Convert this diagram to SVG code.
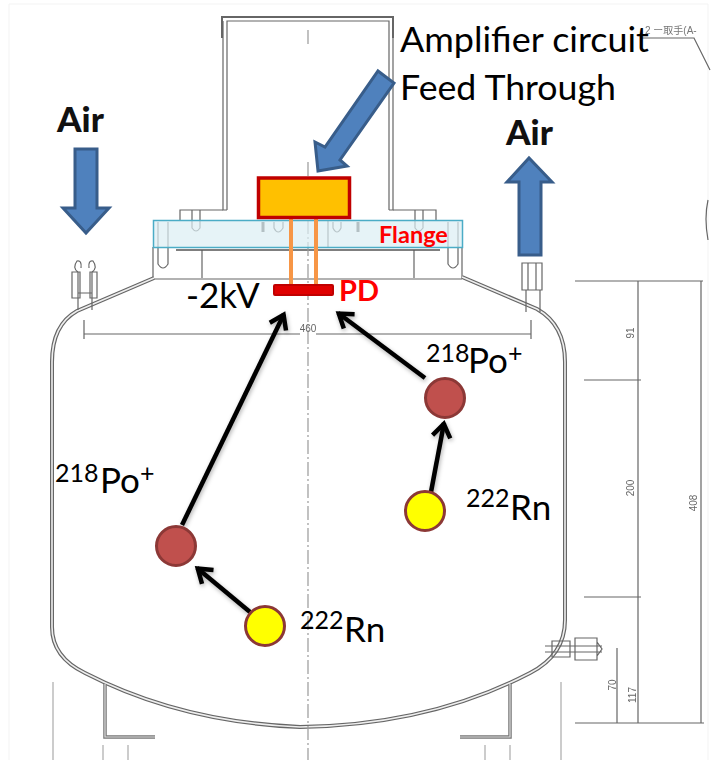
<svg xmlns="http://www.w3.org/2000/svg" width="711" height="760" viewBox="0 0 711 760">
<style>
.t{font-family:Lato,"Noto Sans",sans-serif;fill:#000}
.big{font-size:35px}
.sup{font-size:25px}
.air{font-family:Lato,"Noto Sans",sans-serif;font-weight:900;font-size:35px;fill:#111}
.red{font-family:Lato,"Noto Sans",sans-serif;font-weight:700;fill:#f00}
.ln{fill:none;stroke:#666;stroke-width:1.2}
.thin{fill:none;stroke:#999;stroke-width:1}
.dash{fill:none;stroke:#999;stroke-width:1.2;stroke-dasharray:14 3 2 3}
.dim{font-family:"Liberation Sans",sans-serif;font-size:10px;fill:#666}
.blue{fill:#4f81bd;stroke:#385d8a;stroke-width:3}
.po{fill:#c0504d;stroke:#8c3836;stroke-width:3}
.rn{fill:#ff0;stroke:#8c3836;stroke-width:3}
.arr{fill:none;stroke:#000;stroke-width:4.5;marker-end:url(#open)}
.wire{stroke:#f79646;stroke-width:4;fill:none}
</style>
<defs>
<marker id="open" markerUnits="userSpaceOnUse" markerWidth="28" markerHeight="28" refX="21" refY="12" orient="auto">
<path d="M7 3L20 12L7 21" fill="none" stroke="#000" stroke-width="4.5"/>
</marker>
<filter id="soft" x="-5%" y="-5%" width="110%" height="110%"><feGaussianBlur stdDeviation="0.45"/></filter>
<filter id="shadow" x="-20%" y="-20%" width="140%" height="140%"><feDropShadow dx="1" dy="2" stdDeviation="2" flood-color="#000" flood-opacity="0.3"/></filter>
</defs>
<rect width="711" height="760" fill="#fff"/>
<path d="M9 760V4H708V760" fill="none" stroke="#f3f3f3"/>

<g id="drawing" filter="url(#soft)">
<path d="M222 38V17H393V38" fill="none" stroke="#666" stroke-width="2"/>
<path class="ln" d="M227 210V21H389V210M223 21V210H227M393 21V210H389"/>
<path class="ln" d="M180 220V210H223M436 220V210H393M153 247V278M462 247V278M202 250V278M414 250V278M328 220V248"/>
<path d="M176 250H440" fill="none" stroke="#555" stroke-width="1.6"/>
<path class="ln" d="M154 279H462"/>
<path class="ln" d="M192 210V228Q196 234 200 228V210M274 222V228Q278 236 283 228V222M333 222V228Q337 236 341 228V222M415 210V228Q419 234 423 228V210M158 222V264Q163 272 168 264V222M448 222V264Q453 272 458 264V222"/>
<path d="M263 222V232M358 222V232" stroke="#555" stroke-width="3" fill="none"/>
<path id="wall" d="M154 278L77 311Q52 325 52 362V627Q52 657 85 673Q180 722 300 727Q430 725 530 673Q565 655 565 620V362Q565 325 537 309L462 277" fill="none" stroke="#666" stroke-width="4"/>
<path d="M154 278L77 311Q52 325 52 362V627Q52 657 85 673Q180 722 300 727Q430 725 530 673Q565 655 565 620V362Q565 325 537 309L462 277" fill="none" stroke="#eee" stroke-width="1.6"/>
<path d="M105 684V737H155M510 684V737H460" fill="none" stroke="#777" stroke-width="3.500"/>
<path d="M105 684V737H155M510 684V737H460" fill="none" stroke="#ddd" stroke-width="1.2"/>
<path class="thin" d="M53 682V760M561 682V760M103 745V760M128 745V760M485 745V760M510 745V760"/>
<path class="ln" d="M78 310V272Q72 268 77 261Q82 260 81 268M92 310V272Q98 268 93 261Q88 260 89 268M72 272H80V298H72ZM90 272H97V298H90ZM78 293H92"/>
<path class="ln" d="M522 263H542V290H522ZM528 263V290M536 263V290M526 290V312M540 290V312M526 290H540"/>
<path class="ln" d="M552 641H570V657H552ZM575 638H597V660H575ZM545 646H602M545 652H602M597 642L602 649L597 656"/>
<path class="dash" d="M308 30V46M308 162V178M308 220V760"/>
<path class="ln" d="M84 320V339M84 334H300M316 334H531M531 320V339"/>
<path class="ln" d="M575 281H703M584 380H641M584 597H641M575 723H704M638 281V723M701 281V723M617 648V723"/>
<path class="ln" d="M640 38H694L710 70M708 200Q704 218 708 240"/>
<text class="dim" x="308" y="332" text-anchor="middle">460</text>
<text class="dim" transform="translate(634,333) rotate(-90)" text-anchor="middle">91</text>
<text class="dim" transform="translate(634,488) rotate(-90)" text-anchor="middle">200</text>
<text class="dim" transform="translate(697,503) rotate(-90)" text-anchor="middle">408</text>
<text class="dim" transform="translate(616,685) rotate(-90)" text-anchor="middle">70</text>
<text class="dim" transform="translate(636,695) rotate(-90)" text-anchor="middle">117</text>
<text x="645" y="34" font-size="10" fill="#777" font-family="Liberation Sans,Noto Sans CJK JP,sans-serif">2 ー取手(A-</text>
</g>

<g id="flange">
<rect x="153.500" y="220.500" width="309" height="27" fill="#dbeef4" fill-opacity="0.7" stroke="#4bacc6" stroke-width="1.5"/>
<text class="red" x="379" y="243" font-size="23.500">Flange</text>
</g>
<g id="feedthrough">
<path class="wire" d="M291 219V284M316 219V284"/>
</g>
<g id="amplifier">
<rect x="258.500" y="178" width="91" height="39.500" fill="#ffc000" stroke="#c00000" stroke-width="3.500"/>
</g>
<g id="pd">
<rect x="274" y="285" width="59" height="10" rx="1" fill="#e00000" stroke="#c00000" stroke-width="2"/>
<text class="red" x="339" y="301" font-size="29">PD</text>
</g>
<g id="hv"><text class="t big" x="186" y="308">-2kV</text></g>

<g id="connectors">
<polygon class="blue" points="378,71 394,83 340,160 347,166 318,171 315,142 325,147"/>
<polygon class="blue" points="75,149 97,149 97,208 109,208 86,233 63,208 75,208"/>
<polygon class="blue" points="519,255 541,255 541,182 552,182 529,158 507,182 519,182"/>
<g filter="url(#shadow)">
<path class="arr" d="M182 525L284 314"/>
<path class="arr" d="M425 378L338 313"/>
<path class="arr" d="M431 492L444 423"/>
<path class="arr" d="M250 612L197 568"/>
</g>
</g>

<g id="label-amplifier"><text class="t big" x="400" y="52" textLength="249" lengthAdjust="spacingAndGlyphs">Amplifier circuit</text></g>
<g id="label-feed"><text class="t big" x="400" y="100" textLength="216" lengthAdjust="spacingAndGlyphs">Feed Through</text></g>
<g id="air-in"><text class="air" x="57" y="132">Air</text></g>
<g id="air-out"><text class="air" x="506" y="145">Air</text></g>

<g id="po-right">
<circle class="po" cx="445" cy="398" r="19.500"/>
<text class="t sup" x="426" y="362">218</text><text class="t big" x="468" y="373">Po</text><text class="t sup" x="508" y="362">+</text>
</g>
<g id="po-left">
<circle class="po" cx="176" cy="546" r="19.500"/>
<text class="t sup" x="55" y="482">218</text><text class="t big" x="100" y="493">Po</text><text class="t sup" x="140" y="482">+</text>
</g>
<g id="rn-right">
<circle class="rn" cx="425" cy="511" r="19.500"/>
<text class="t sup" x="466" y="507">222</text><text class="t big" x="510" y="520">Rn</text>
</g>
<g id="rn-lower">
<circle class="rn" cx="265" cy="626" r="19.500"/>
<text class="t sup" x="300" y="629">222</text><text class="t big" x="344" y="642">Rn</text>
</g>
</svg>
